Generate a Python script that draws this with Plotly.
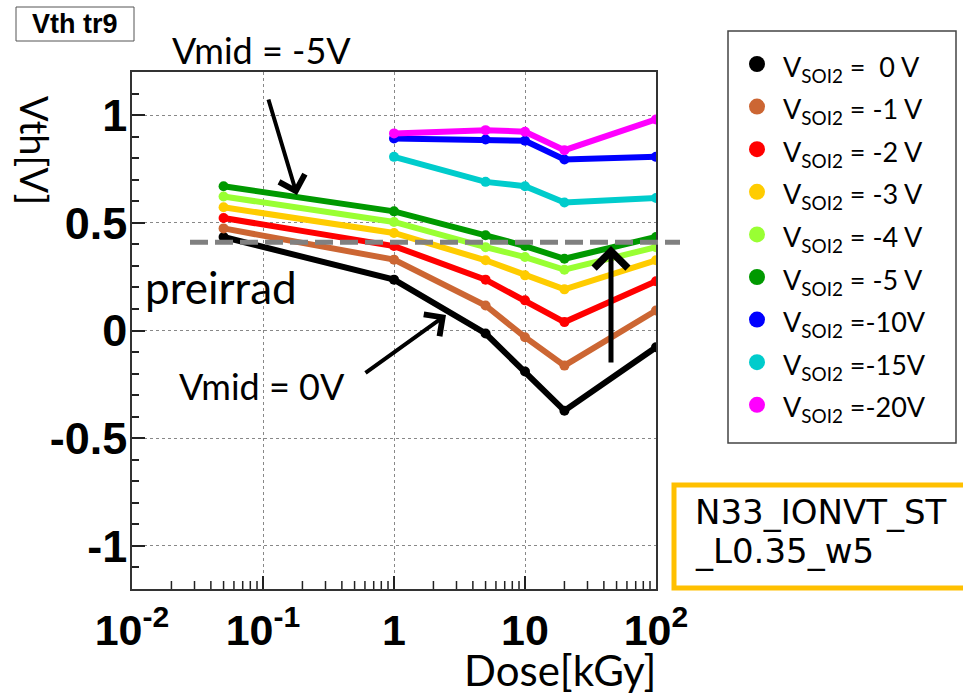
import plotly.graph_objects as go

# ---------------- data ----------------
DOSE_ALL = [0.05, 1, 5, 10, 20, 100]
DOSE_HI = [1, 5, 10, 20, 100]

V_0 = [0.434, 0.236, -0.014, -0.19, -0.372, -0.078]
V_M1 = [0.474, 0.329, 0.116, -0.031, -0.163, 0.093]
V_M2 = [0.522, 0.392, 0.236, 0.14, 0.039, 0.229]
V_M3 = [0.572, 0.453, 0.326, 0.256, 0.191, 0.326]
V_M4 = [0.622, 0.504, 0.387, 0.341, 0.282, 0.387]
V_M5 = [0.670, 0.553, 0.442, 0.392, 0.333, 0.434]
V_M10 = [0.891, 0.887, 0.881, 0.794, 0.806]
V_M15 = [0.806, 0.690, 0.670, 0.594, 0.615]
V_M20 = [0.915, 0.930, 0.923, 0.837, 0.980]

SERIES_LABELS = ["V<sub>SOI2</sub> =  0 V", "V<sub>SOI2</sub> = -1 V", "V<sub>SOI2</sub> = -2 V",
                 "V<sub>SOI2</sub> = -3 V", "V<sub>SOI2</sub> = -4 V", "V<sub>SOI2</sub> = -5 V",
                 "V<sub>SOI2</sub> =-10V", "V<sub>SOI2</sub> =-15V", "V<sub>SOI2</sub> =-20V"]
SERIES_X = [DOSE_ALL] * 6 + [DOSE_HI] * 3
SERIES_Y = [V_0, V_M1, V_M2, V_M3, V_M4, V_M5, V_M10, V_M15, V_M20]
COLORS = ["#000000", "#CC6633", "#FF0000", "#FFCC00", "#99FF33", "#009900",
          "#0000FF", "#00CCCC", "#FF00FF"]

PREIRRAD = 0.41
X_TICKVALS = [0.01, 0.1, 1, 10, 100]
X_TICKTEXT = ["10<sup>-2</sup>", "10<sup>-1</sup>", "1", "10", "10<sup>2</sup>"]
X_MINOR = [m * d for d in [0.01, 0.1, 1, 10] for m in range(2, 10)]
Y_RANGE = [-1.2, 1.2]
Y_TICKVALS = [-1, -0.5, 0, 0.5, 1]
Y_TICKTEXT = ["-1", "-0.5", "0", "0.5", "1"]

# ---------------- geometry helpers (pixel -> paper) ----------------
W, H = 963, 697
L, R, T, B = 132, 656, 72, 589


def px(x):
    return (x - L) / (R - L)


def py(y):
    return (B - y) / (B - T)


TXT = "Lato, Open Sans, Liberation Sans, sans-serif"
BOLD = "Liberation Sans, Arial, sans-serif"
NARROW = "Liberation Sans Narrow, Liberation Sans, Arial, sans-serif"
TICK_C = "#222222"

fig = go.Figure()
for xs, ys, c, name in zip(SERIES_X, SERIES_Y, COLORS, SERIES_LABELS):
    fig.add_trace(go.Scatter(x=xs, y=ys, mode="lines+markers", name=name,
                             line=dict(color=c, width=6),
                             marker=dict(color=c, size=10),
                             showlegend=False))

shapes = []
annotations = []

# minor ticks of the log dose axis (8 px long, drawn from the bottom axis line)
MINOR_LEN = 8 * (Y_RANGE[1] - Y_RANGE[0]) / (B - T)
for v in X_MINOR:
    shapes.append(dict(type="line", xref="x", yref="y", x0=v, x1=v,
                       y0=Y_RANGE[0], y1=Y_RANGE[0] + MINOR_LEN,
                       line=dict(color=TICK_C, width=1.5), layer="above"))

# preirrad dashed line
shapes.append(dict(type="line", xref="paper", yref="y", x0=px(190), x1=px(680),
                   y0=PREIRRAD, y1=PREIRRAD,
                   line=dict(color="#808080", width=5, dash="18px,7px")))

# title box
shapes.append(dict(type="rect", xref="paper", yref="paper", x0=px(16), x1=px(134),
                   y0=py(41), y1=py(7), line=dict(color="#555555", width=1),
                   fillcolor="white"))
annotations.append(dict(text="<b>Vth tr9</b>", xref="paper", yref="paper",
                        x=px(75), y=py(24), xanchor="center", yanchor="middle",
                        showarrow=False, font=dict(family=BOLD, size=27, color="black")))

# legend box
shapes.append(dict(type="rect", xref="paper", yref="paper", x0=px(728), x1=px(956),
                   y0=py(443), y1=py(31), line=dict(color="#444444", width=1.5),
                   fillcolor="white"))
LEG_Y0, LEG_DY = 64, 42.6
for i, (c, name) in enumerate(zip(COLORS, SERIES_LABELS)):
    yc = LEG_Y0 + i * LEG_DY
    shapes.append(dict(type="circle", xref="paper", yref="paper",
                       xsizemode="pixel", ysizemode="pixel",
                       xanchor=px(757), yanchor=py(yc),
                       x0=-8, x1=8, y0=-8, y1=8,
                       fillcolor=c, line=dict(color=c, width=0)))
    annotations.append(dict(text=name, xref="paper", yref="paper",
                            x=px(781), y=py(yc + 4), xanchor="left", yanchor="middle",
                            showarrow=False, font=dict(family=TXT, size=27, color="black")))

# sample box bottom right
shapes.append(dict(type="rect", xref="paper", yref="paper", x0=px(674), x1=px(990),
                   y0=py(588), y1=py(485), line=dict(color="#FFC000", width=5),
                   fillcolor="white"))
annotations.append(dict(text="N33_IONVT_ST", xref="paper", yref="paper",
                        x=px(693), y=py(512), xanchor="left", yanchor="middle",
                        showarrow=False, font=dict(family="DejaVu Sans", size=34, color="black")))
annotations.append(dict(text="_L0.35_w5", xref="paper", yref="paper",
                        x=px(693), y=py(551), xanchor="left", yanchor="middle",
                        showarrow=False, font=dict(family="DejaVu Sans", size=34, color="black")))

# free texts
annotations.append(dict(text="Vmid = -5V", xref="paper", yref="paper", x=px(261), y=py(50),
                        xanchor="center", yanchor="middle", showarrow=False,
                        font=dict(family=TXT, size=36, color="black")))
annotations.append(dict(text="preirrad", xref="paper", yref="paper", x=px(221), y=py(287),
                        xanchor="center", yanchor="middle", showarrow=False,
                        font=dict(family=TXT, size=44, color="black")))
annotations.append(dict(text="Vmid = 0V", xref="paper", yref="paper", x=px(262), y=py(386),
                        xanchor="center", yanchor="middle", showarrow=False,
                        font=dict(family=TXT, size=36, color="black")))
# axis titles
annotations.append(dict(text="Dose[kGy]", xref="paper", yref="paper", x=px(658), y=py(670),
                        xanchor="right", yanchor="middle", showarrow=False,
                        font=dict(family=TXT, size=42, color="black")))
annotations.append(dict(text="Vth[V]", xref="paper", yref="paper", x=px(35), y=py(150),
                        xanchor="center", yanchor="middle", showarrow=False, textangle=90,
                        font=dict(family=TXT, size=38, color="black")))

# arrows
for (tx, ty), (hx, hy), w, s in [((268, 98), (297, 195), 4, 1.3),
                                 ((364, 374), (446, 315), 4, 1.3),
                                 ((611, 364), (611, 246), 5, 1.3)]:
    annotations.append(dict(text="", xref="paper", yref="paper", x=px(hx), y=py(hy),
                            ax=tx - hx, ay=ty - hy, axref="pixel", ayref="pixel",
                            showarrow=True, arrowhead=4, arrowsize=s, arrowwidth=w,
                            arrowcolor="black"))

fig.update_layout(
    width=W, height=H,
    margin=dict(l=L, r=W - R, t=T, b=H - B, pad=0),
    paper_bgcolor="white", plot_bgcolor="white",
    shapes=shapes, annotations=annotations,
    showlegend=False,
    # overlay axis that only carries the minor (2..9) ticks of the log dose axis
    xaxis2=dict(type="log", range=[-2, 2], overlaying="x", anchor="y", side="bottom",
                tickmode="array", tickvals=X_MINOR, ticks="inside", ticklen=8,
                tickwidth=1.5, tickcolor=TICK_C, showticklabels=False,
                showgrid=False, zeroline=False, showline=False),
)
fig.layout.xaxis.update(
    type="log", range=[-2, 2],
    showline=True, linecolor="#333333", linewidth=1.5, mirror=True,
    ticks="inside", ticklen=13, tickcolor=TICK_C, tickwidth=1.5,
    tickvals=X_TICKVALS, ticktext=X_TICKTEXT, ticklabelstandoff=3,
    tickfont=dict(family=NARROW, size=43, color="black", weight="bold"),
    showgrid=True, gridcolor="#888888", griddash="dot", gridwidth=1,
    zeroline=False,
)
fig.layout.yaxis.update(
    range=Y_RANGE,
    showline=True, linecolor="#333333", linewidth=1.5, mirror=True,
    ticks="inside", ticklen=13, tickcolor=TICK_C, tickwidth=1.5,
    tickvals=Y_TICKVALS, ticktext=Y_TICKTEXT, ticklabelstandoff=-6,
    tickfont=dict(family=BOLD, size=45, color="black", weight="bold"),
    showgrid=True, gridcolor="#888888", griddash="dot", gridwidth=1,
    minor=dict(ticks="inside", ticklen=7, tickcolor=TICK_C, tickwidth=1.5, dtick=0.1,
               showgrid=False),
    zeroline=False,
)

fig.write_html("out.html")
